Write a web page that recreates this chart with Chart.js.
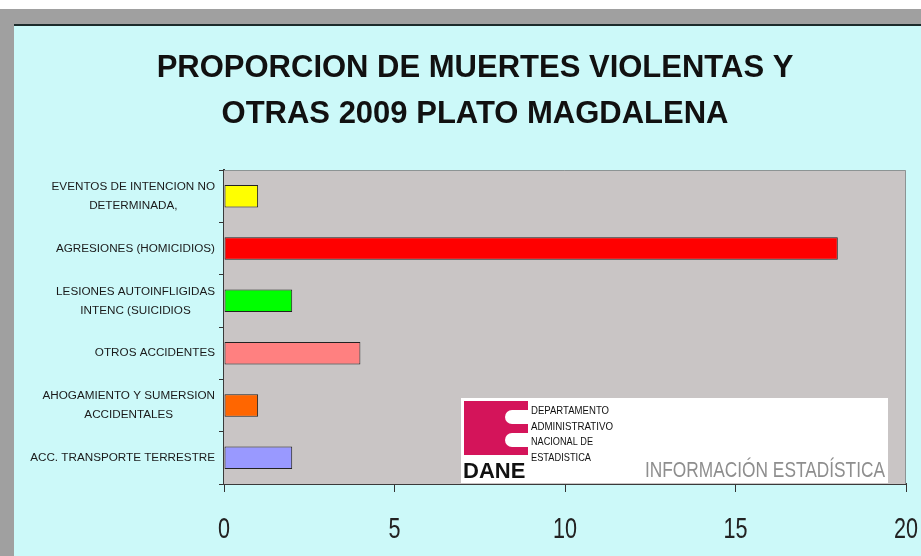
<!DOCTYPE html>
<html lang="es">
  <head>
    <meta charset="UTF-8" />
    <script src="https://cdn.jsdelivr.net/npm/chart.js@4.4.0/dist/chart.umd.min.js"></script>
    <title>Proporcion de muertes violentas</title>
    <style>
      body {
        margin: 0;
        padding: 0;
        width: 921px;
        height: 556px;
        overflow: hidden;
        background: #a0a0a0;
      }
      .top {
        position: absolute;
        left: 0;
        top: 0;
        width: 921px;
        height: 9px;
        background: #fff;
      }
      .panel {
        position: absolute;
        left: 14px;
        top: 24px;
        width: 907px;
        height: 532px;
        background: #ccf9f9;
        border-top: 2px solid #1c2b2b;
        box-sizing: border-box;
      }
    </style>
  </head>
  <body>
    <div class="top"></div>
    <div class="panel">
      <canvas id="chart" width="907" height="530"></canvas>
    </div>
    <script>
      const categories = [
        ['EVENTOS DE INTENCION NO', 'DETERMINADA,'],
        ['AGRESIONES (HOMICIDIOS)'],
        ['LESIONES AUTOINFLIGIDAS', 'INTENC (SUICIDIOS'],
        ['OTROS ACCIDENTES'],
        ['AHOGAMIENTO Y SUMERSION', 'ACCIDENTALES'],
        ['ACC. TRANSPORTE TERRESTRE'],
      ]
      const values = [1, 18, 2, 4, 1, 2]
      const barColors = ['#ffff00', '#ff0000', '#00ff00', '#ff8080', '#ff6600', '#9999ff']
      const xTicks = [0, 5, 10, 15, 20]

      // plot background + top/right frame
      const plotFrame = {
        id: 'plotFrame',
        beforeDatasetsDraw(chart) {
          const { ctx, chartArea: a } = chart
          ctx.save()
          ctx.fillStyle = '#c9c5c5'
          ctx.fillRect(a.left, a.top, a.right - a.left, a.bottom - a.top)
          ctx.strokeStyle = '#8c9494'
          ctx.lineWidth = 1
          ctx.beginPath()
          ctx.moveTo(a.left, a.top + 0.5)
          ctx.lineTo(a.right - 0.5, a.top + 0.5)
          ctx.lineTo(a.right - 0.5, a.bottom)
          ctx.stroke()
          ctx.restore()
        },
      }

      // category labels (lines centred on each other) and narrow x tick labels
      const axisLabels = {
        id: 'axisLabels',
        afterDraw(chart) {
          const { ctx } = chart
          const y = chart.scales.y
          const x = chart.scales.x
          ctx.save()
          ctx.font = '11.7px "Liberation Sans", Arial, sans-serif'
          ctx.fillStyle = '#1a1a1a'
          ctx.textAlign = 'center'
          ctx.textBaseline = 'middle'
          categories.forEach((lines, i) => {
            const cy = y.getPixelForValue(i)
            const w = Math.max(...lines.map((l) => ctx.measureText(l).width))
            const cx = y.right - 9 - w / 2
            const lh = 19
            lines.forEach((l, j) => {
              ctx.fillText(l, cx, cy + (j - (lines.length - 1) / 2) * lh)
            })
          })
          ctx.font = '30px "Liberation Sans", Arial, sans-serif'
          ctx.fillStyle = '#222222'
          ctx.textBaseline = 'alphabetic'
          xTicks.forEach((v) => {
            const s = String(v)
            ctx.fillText(s, x.getPixelForValue(v), x.top + 54, s.length * 12)
          })
          ctx.restore()
        },
      }

      // DANE logo box sitting in the bottom right of the plot
      const daneLogo = {
        id: 'daneLogo',
        afterDatasetsDraw(chart) {
          const { ctx, chartArea: a } = chart
          const L = a.left + 237
          const T = a.top + 228
          ctx.save()
          ctx.fillStyle = '#ffffff'
          ctx.fillRect(L, T, 427, 85)
          // magenta block
          ctx.fillStyle = '#d4145a'
          ctx.fillRect(L + 3, T + 3, 64, 54)
          ctx.fillStyle = '#ffffff'
          ;[T + 19, T + 42].forEach((cy) => {
            ctx.fillRect(L + 51, cy - 7, 17, 14)
            ctx.beginPath()
            ctx.arc(L + 51, cy, 7, 0, Math.PI * 2)
            ctx.fill()
          })
          ctx.fillStyle = '#111'
          ctx.font = 'bold 22px "Liberation Sans", Arial, sans-serif'
          ctx.textBaseline = 'alphabetic'
          ctx.fillText('DANE', L + 2, T + 80, 66)
          ctx.font = '11px "Liberation Sans", Arial, sans-serif'
          const small = ['DEPARTAMENTO', 'ADMINISTRATIVO', 'NACIONAL DE', 'ESTADISTICA']
          const smallW = [78, 82, 62, 60]
          small.forEach((s, i) => {
            ctx.fillText(s, L + 70, T + 16 + i * 15.5, smallW[i])
          })
          ctx.fillStyle = '#8e8e8e'
          ctx.font = '22px "Liberation Sans", Arial, sans-serif'
          ctx.fillText('INFORMACIÓN ESTADÍSTICA', L + 184, T + 79, 240)
          ctx.restore()
        },
      }

      new Chart(document.getElementById('chart'), {
        type: 'bar',
        data: {
          labels: categories,
          datasets: [
            {
              data: values,
              backgroundColor: barColors,
              borderColor: '#222222',
              borderWidth: 1,
              borderSkipped: false,
              barPercentage: 0.43,
              categoryPercentage: 1,
            },
          ],
        },
        options: {
          indexAxis: 'y',
          responsive: false,
          animation: false,
          layout: { padding: { left: 16, right: 1, top: 0, bottom: 0 } },
          plugins: {
            legend: { display: false },
            tooltip: { enabled: false },
            title: {
              display: true,
              text: ['PROPORCION DE MUERTES VIOLENTAS Y', 'OTRAS 2009 PLATO MAGDALENA'],
              color: '#111111',
              font: { family: '"Liberation Sans", Arial, sans-serif', size: 31, weight: 'bold', lineHeight: 1.484 },
              padding: { top: 19, bottom: 33 },
            },
          },
          scales: {
            x: {
              min: 0,
              max: 20,
              afterFit: (s) => {
                s.height = 72
                s.paddingLeft = 0
                s.paddingRight = 15
              },
              afterBuildTicks: (s) => {
                s.ticks = xTicks.map((v) => ({ value: v }))
              },
              grid: { drawOnChartArea: false, tickLength: 8, color: '#333333' },
              border: { color: '#3a3a3a', width: 2 },
              ticks: { display: false },
            },
            y: {
              afterFit: (s) => {
                s.width = 194
              },
              grid: { drawOnChartArea: false, tickLength: 5, color: '#333333', offset: true },
              border: { color: '#3a3a3a', width: 2 },
              ticks: { display: false },
            },
          },
        },
        plugins: [plotFrame, axisLabels, daneLogo],
      })
    </script>
  </body>
</html>
